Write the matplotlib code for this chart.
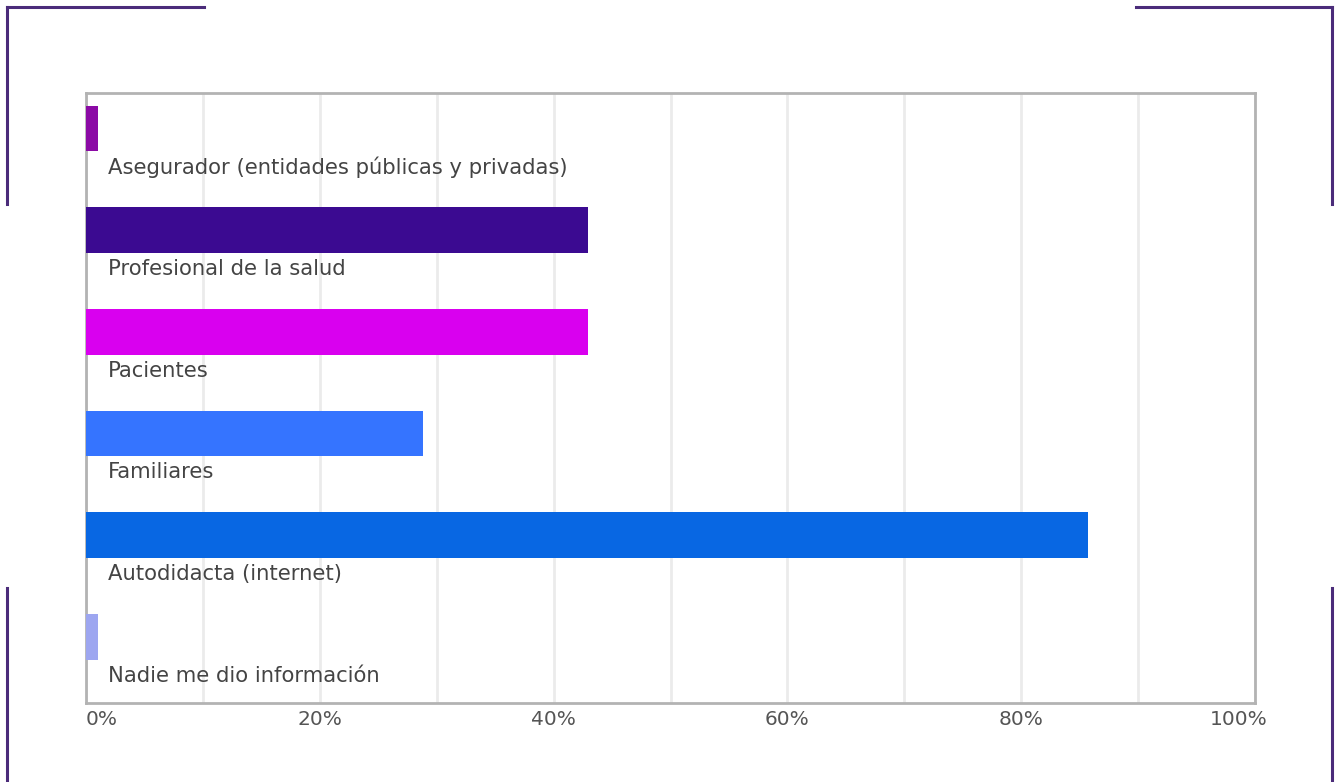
import matplotlib.pyplot as plt
from matplotlib.lines import Line2D
from matplotlib.transforms import ScaledTranslation

categories = ["Asegurador (entidades públicas y privadas)", "Profesional de la salud",
              "Pacientes", "Familiares", "Autodidacta (internet)", "Nadie me dio información"]
values = [1.0, 42.9, 42.9, 28.8, 85.7, 1.0]
colors = ["#8B0AA5", "#3B0A91", "#D900EF", "#3574FF", "#0867E3", "#9DA6F0"]
ticks = [0, 20, 40, 60, 80, 100]
tick_labels = ["0%", "20%", "40%", "60%", "80%", "100%"]

plt.rcParams['font.family'] = ["DejaVu Sans"]

W, H = 1336, 782
fig = plt.figure(figsize=(W / 100, H / 100), dpi=100)
ax = fig.add_axes([86 / W, 1 - 703 / H, (1255 - 86) / W, (703 - 93) / H])

for i, (cat, v, c) in enumerate(zip(categories, values, colors)):
    ax.barh(i - 0.15, v, height=0.45, color=c, zorder=3)
    ax.text(1.9, i + 0.23, cat, va="center", ha="left", fontsize=15.2, color="#444444", zorder=4)

ax.set_xlim(0, 100)
ax.set_ylim(5.5, -0.5)
ax.set_yticks([])
ax.set_xticks(range(0, 101, 10))
ax.grid(axis="x", color="#ebebeb", linewidth=2, zorder=0)
ax.set_xticklabels([""] * 11)
ax.tick_params(axis="x", length=0)
for s in ax.spines.values():
    s.set_color("#b3b3b3")
    s.set_linewidth(2)

# tick labels, end ones pushed inward like the original
for t, lab in zip(ticks, tick_labels):
    ha = "center"
    off = 0
    if t == 0:
        ha = "left"
    elif t == 100:
        off = -16 / 100
    tr = ax.get_xaxis_transform() + ScaledTranslation(off, 0, fig.dpi_scale_trans)
    ax.text(t, -0.012, lab, transform=tr, ha=ha, va="top", fontsize=14.5, color="#555555")

# corner brackets
bc = "#4B2C7A"
def seg(x0, y0, x1, y1):
    fig.add_artist(Line2D([x0 / W, x1 / W], [1 - y0 / H, 1 - y1 / H], color=bc,
                          linewidth=2.2, transform=fig.transFigure))

seg(7, 7, 204, 7)
seg(7, 7, 7, 204)
seg(1136, 7, 1332, 7)
seg(1332, 7, 1332, 204)
seg(7, 588, 7, 782)
seg(1332, 588, 1332, 782)

plt.savefig("out.png", dpi=100)
